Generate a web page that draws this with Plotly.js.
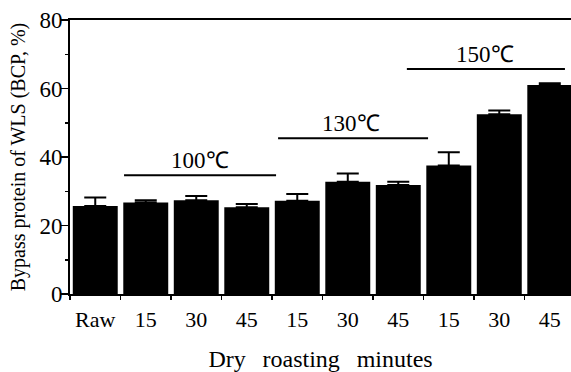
<!DOCTYPE html>
<html>
<head>
<meta charset="utf-8">
<script src="https://cdn.plot.ly/plotly-3.0.1.min.js"></script>
<style>html,body{margin:0;padding:0;background:#fff;}#chart{width:571px;height:372px;}</style>
</head>
<body>
<div id="chart"></div>
<script>
// Data
const tickLabels = ['Raw', '15', '30', '45', '15', '30', '45', '15', '30', '45'];
const bcp = [25.7, 26.7, 27.4, 25.3, 27.2, 32.8, 31.8, 37.5, 52.5, 61.0];
const bcpErr = [2.5, 0.7, 1.2, 1.0, 2.0, 2.4, 1.0, 3.9, 1.1, 0.5];
const temps = ['100\u2103', '130\u2103', '150\u2103'];

const xIdx = tickLabels.map((_, i) => i);
const serif = 'Liberation Serif';

// group bracket geometry (layout positions, in data units)
const groupLines = [
  {x0: 0.57, x1: 3.58, y: 34.7, ty: 39.1, tx: 2.07},
  {x0: 3.62, x1: 6.59, y: 45.5, ty: 49.9, tx: 5.06},
  {x0: 6.17, x1: 9.30, y: 65.7, ty: 69.8, tx: 7.72}
];

const trace = {
  type: 'bar',
  x: xIdx,
  y: bcp,
  marker: {color: '#000000', line: {width: 0}},
  error_y: {type: 'data', symmetric: false, array: bcpErr, arrayminus: bcp.map(() => 0),
            color: '#000000', thickness: 2, width: 11},
  hoverinfo: 'skip'
};

const sp = '\u00a0\u00a0\u2009';

const layout = {
  width: 571, height: 372,
  margin: {l: 70, r: 0, t: 20, b: 78},
  paper_bgcolor: '#ffffff', plot_bgcolor: '#ffffff',
  showlegend: false,
  bargap: 0.11,
  font: {family: serif, color: '#000000', size: 21},
  xaxis: {
    range: [-0.5, 9.42],
    tickmode: 'array', tickvals: xIdx, ticktext: tickLabels,
    ticks: '', showgrid: false, zeroline: false,
    showline: true, linecolor: '#000', linewidth: 2, mirror: true,
    tickfont: {family: serif, size: 22, color: '#000'},
    ticklabelstandoff: 5,
    minor: {tickmode: 'linear', tick0: 0.5, dtick: 1, ticks: 'outside', ticklen: 4, tickwidth: 1.5, tickcolor: '#000', showgrid: false},
    title: {text: 'Dry' + sp + 'roasting' + sp + 'minutes', font: {family: serif, size: 24, color: '#000'}, standoff: 28}
  },
  yaxis: {
    range: [0, 80],
    tickmode: 'array', tickvals: [0, 20, 40, 60, 80],
    ticks: 'outside', ticklen: 8, tickwidth: 1.5, tickcolor: '#000',
    showgrid: false, zeroline: false,
    showline: true, linecolor: '#000', linewidth: 2,
    tickfont: {family: serif, size: 23, color: '#000'},
    ticklabelstandoff: -7,
    minor: {tickmode: 'array', tickvals: [10, 30, 50, 70], ticks: 'outside', ticklen: 3, tickwidth: 1.5, tickcolor: '#000', showgrid: false},
    title: {text: 'Bypass protein of WLS (BCP, %)', font: {family: serif, size: 20, color: '#000'}, standoff: 8}
  },
  shapes: groupLines.map(g => ({type: 'line', xref: 'x', yref: 'y', x0: g.x0, x1: g.x1, y0: g.y, y1: g.y,
                                line: {color: '#000', width: 2}})),
  annotations: groupLines.map((g, i) => ({xref: 'x', yref: 'y', x: g.tx, y: g.ty, text: temps[i],
                                          showarrow: false, xanchor: 'center', yanchor: 'middle',
                                          font: {family: serif, size: 23, color: '#000'}}))
};

Plotly.newPlot('chart', [trace], layout, {displayModeBar: false, staticPlot: true});
</script>
</body>
</html>
